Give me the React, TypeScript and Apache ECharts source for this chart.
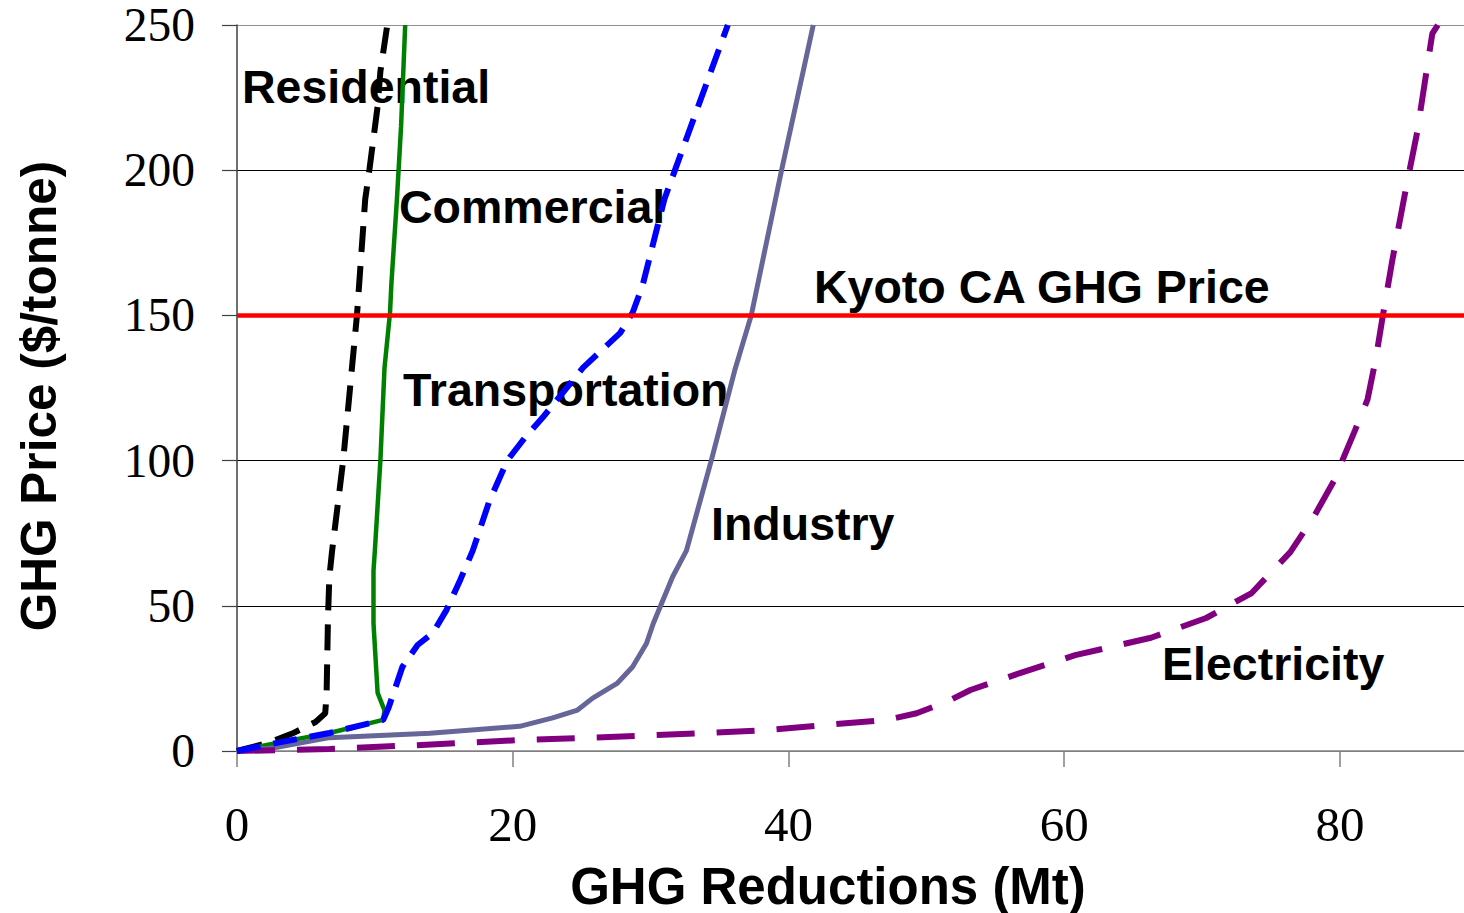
import React, { useEffect, useRef } from "react";
import * as echarts from "echarts";

// Tick values
const xTicks = [0, 20, 40, 60, 80];
const yMin = 0;
const yMax = 250;
const yStep = 50;
const xMax = 89;

// Marginal abatement cost curves: [GHG reductions (Mt), GHG price ($/tonne)]
const residential: [number, number][] = [
  [0, 0], [2.4, 3], [4.0, 6], [5.7, 10], [6.4, 13], [6.5, 20], [6.6, 46], [6.7, 60],
  [6.9, 69], [7.7, 100], [8.2, 125], [8.7, 150], [9.3, 190], [9.6, 200], [10.2, 222],
  [10.4, 234], [10.9, 250],
];
const commercial: [number, number][] = [
  [0, 0], [2.9, 2.8], [6.7, 6.2], [10.6, 10.7], [10.7, 14], [10.2, 20], [9.9, 44],
  [9.9, 62], [10.0, 69], [10.4, 100], [10.7, 132], [11.1, 151], [11.2, 161],
  [11.6, 190], [11.9, 215], [12.2, 250],
];
const transportation: [number, number][] = [
  [0, 0], [2.9, 2.8], [6.7, 6.2], [10.6, 10.7], [11, 15], [12, 29], [13.1, 36.5],
  [14.2, 40.6], [15.2, 48.6], [16.2, 59], [17.1, 69], [18.3, 86], [19.6, 100],
  [20.9, 108], [22.2, 115], [25.1, 132], [27.8, 144], [28.7, 151], [29.4, 160],
  [30.2, 175], [31.0, 190], [33.3, 220], [35.6, 250],
];
const industry: [number, number][] = [
  [0, 0], [2.6, 1], [6.7, 4.6], [14, 6.1], [20.5, 8.5], [22.9, 11.4], [24.7, 14.1],
  [25.8, 18.2], [27.6, 23.4], [28.7, 29], [29.7, 37], [30.2, 44], [30.9, 52],
  [31.6, 60], [32.6, 69], [34.4, 100], [36.1, 131], [37.3, 150], [39.5, 200],
  [41.8, 250],
];
const electricity: [number, number][] = [
  [0, 0], [6.7, 0.7], [13, 2], [20.7, 3.8], [25.4, 4.5], [34.1, 6.2], [38.4, 7.2],
  [42.8, 9], [47.1, 10.7], [49.3, 13], [51.5, 17], [53.2, 21], [56.9, 27], [60.8, 33],
  [66.3, 39], [70.3, 45.8], [73.6, 54.4], [76.4, 68.5], [78.1, 80.6], [79.6, 93.3],
  [80.4, 102.6], [81.1, 110.5], [82, 121], [82.6, 135], [83.1, 149.5], [83.8, 169],
  [84.8, 194], [85.6, 213], [86.7, 247], [87.1, 250],
];
const kyotoPrice = 150;
const kyotoLine: [number, number][] = [
  [0, kyotoPrice],
  [xMax, kyotoPrice],
];

const sans = "'Liberation Sans', Arial, Helvetica, sans-serif";
const serif = "'Liberation Serif', 'Times New Roman', serif";

export default function App() {
  const ref = useRef<HTMLDivElement>(null);

  useEffect(() => {
    if (!ref.current) return;
    const chart = echarts.init(ref.current, undefined, { renderer: "svg" });

    const lbl = (text: string, x: number, y: number, size = 46.5) => ({
      type: "text",
      x,
      y,
      z: 0,
      style: {
        text,
        fill: "#000",
        fontFamily: sans,
        fontWeight: "bold",
        fontSize: size,
        lineHeight: 44,
        align: "left",
        verticalAlign: "middle",
      },
    });

    chart.setOption({
      animation: false,
      backgroundColor: "#fff",
      grid: { left: 237, right: 0, top: 25, bottom: 162, containLabel: false },
      xAxis: {
        type: "value",
        min: 0,
        max: xMax,
        interval: 20,
        axisLine: { show: true, lineStyle: { color: "#808080", width: 1.5 } },
        axisTick: {
          show: true,
          length: 16,
          inside: false,
          customValues: xTicks,
          lineStyle: { color: "#808080", width: 1.5 },
        },
        axisLabel: {
          customValues: xTicks,
          margin: 53,
          color: "#000",
          fontFamily: serif,
          fontSize: 49,
          lineHeight: 40,
        },
        splitLine: { show: false },
      },
      yAxis: {
        type: "value",
        min: yMin,
        max: yMax,
        interval: yStep,
        axisLine: { show: true, lineStyle: { color: "#404040", width: 1.5 } },
        axisTick: { show: true, length: 15, lineStyle: { color: "#404040", width: 1.2 } },
        axisLabel: {
          margin: 42,
          color: "#000",
          fontFamily: serif,
          fontSize: 47.5,
          lineHeight: 36,
        },
        splitLine: {
          show: true,
          lineStyle: {
            color: ["#808080", "#000", "#000", "#000", "#000", "#909090"],
            width: 1,
          },
        },
      },
      graphic: [
        lbl("Residential", 242, 87),
        lbl("Commercial", 399, 207),
        lbl("Kyoto CA GHG Price", 814, 287),
        lbl("Transportation", 403, 390),
        lbl("Industry", 711, 524),
        lbl("Electricity", 1162, 664),
        {
          type: "text",
          x: 38,
          y: 396,
          rotation: Math.PI / 2,
          style: {
            text: "GHG Price ($/tonne)",
            fill: "#000",
            fontFamily: sans,
            fontWeight: "bold",
            fontSize: 49.5,
            lineHeight: 46,
            align: "center",
            verticalAlign: "middle",
          },
        },
        {
          type: "text",
          x: 828,
          y: 886,
          style: {
            text: "GHG Reductions (Mt)",
            fill: "#000",
            fontFamily: sans,
            fontWeight: "bold",
            fontSize: 51,
            lineHeight: 46,
            align: "center",
            verticalAlign: "middle",
          },
        },
      ],
      series: [
        {
          name: "Residential",
          type: "line",
          data: residential,
          showSymbol: false,
          lineStyle: { color: "#000", width: 6, type: [26, 14] },
          z: 3,
        },
        {
          name: "Commercial",
          type: "line",
          data: commercial,
          showSymbol: false,
          lineStyle: { color: "#008000", width: 4.5, type: "solid" },
          z: 3,
        },
        {
          name: "Transportation",
          type: "line",
          data: transportation,
          showSymbol: false,
          lineStyle: { color: "#0000ff", width: 6, type: [24, 13] },
          z: 4,
        },
        {
          name: "Industry",
          type: "line",
          data: industry,
          showSymbol: false,
          lineStyle: { color: "#666699", width: 5, type: "solid" },
          z: 3,
        },
        {
          name: "Electricity",
          type: "line",
          data: electricity,
          showSymbol: false,
          lineStyle: { color: "#800080", width: 6, type: [38, 22] },
          z: 3,
        },
        {
          name: "Kyoto CA GHG Price",
          type: "line",
          data: kyotoLine,
          showSymbol: false,
          lineStyle: { color: "#ff0000", width: 4.5 },
          z: 5,
        },
      ],
    });

    return () => chart.dispose();
  }, []);

  return (
    <div
      ref={ref}
      style={{ position: "absolute", left: 0, top: 0, width: 1464, height: 913, background: "#fff" }}
    />
  );
}
